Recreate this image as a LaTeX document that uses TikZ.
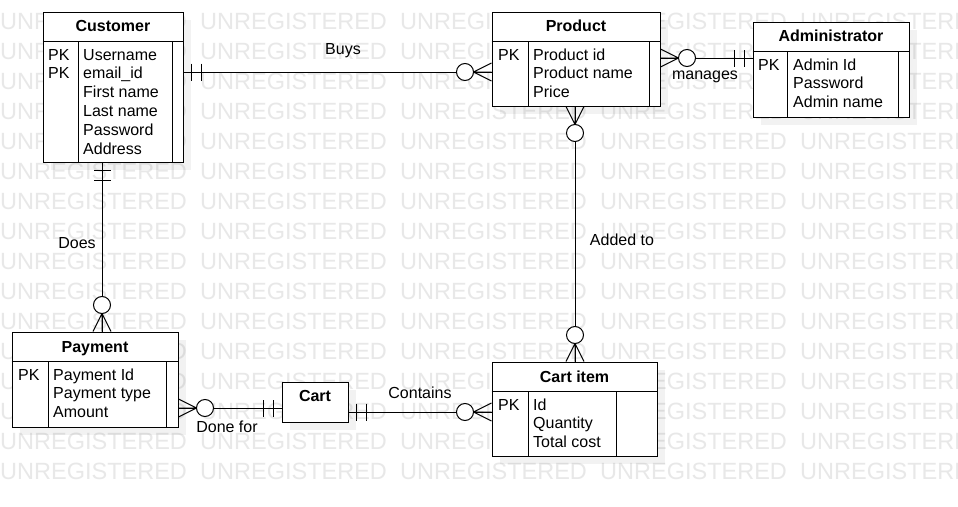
\documentclass[tikz,border=0pt]{standalone}
\usepackage{fontspec}
\setmainfont{Liberation Sans}
\usetikzlibrary{shadows}
\definecolor{wmcol}{RGB}{232,232,232}
\newcommand\entlines[4]{%
  \draw[ln] (#1.west |- 0,#2) -- (#1.east |- 0,#2);
  \draw[ln] (#3,#2) -- (#3,0 |- #1.south);
  \draw[ln] (#4,#2) -- (#4,0 |- #1.south);
}
\begin{document}
\begin{tikzpicture}[x=1pt,y=-1pt,
  ln/.style={line width=1pt},
  ent/.style={draw, line width=1pt, fill=white, inner sep=0pt, rectangle,
    drop shadow={shadow xshift=8pt, shadow yshift=-8pt, fill=black, opacity=0.05}},
  wm/.style={inner sep=0pt, text=wmcol, font=\fontsize{23.5}{28}\selectfont},
  txt/.style={inner sep=0pt, font=\fontsize{16}{19}\selectfont},
  ttl/.style={inner sep=0pt, anchor=base, font=\fontsize{16}{19}\selectfont\bfseries},
  lbl/.style={inner sep=0pt, anchor=base, font=\fontsize{16}{19}\selectfont},
  zmany/.pic={
    \draw[line width=1pt] (0,-9) -- (18,0) -- (0,9) (0,0) -- (18,0);
    \draw[line width=1pt, fill=white] (26.5,0) circle[radius=8.5pt];
  },
  oone/.pic={
    \draw[line width=1pt] (8,-8.5) -- (8,8.5) (18,-8.5) -- (18,8.5);
  }
]
\useasboundingbox (0,0) rectangle (958,506);
\clip (0,0) rectangle (958,506);
\fill[white] (0,0) rectangle (958,506);
% watermark
\foreach \k in {0,...,15}{
  \foreach \j in {0,...,4}{
    \node[wm, anchor=base west] (wm-\j-\k) at (200*\j, 29.4+30*\k) {UNREGISTERED};
  }
}
% entity boxes
\node[ent, minimum width=140pt, minimum height=150pt] (cust) at (113,87) {};
\node[ent, minimum width=168pt, minimum height=94pt] (prod) at (576,59) {};
\node[ent, minimum width=156pt, minimum height=95pt] (admin) at (831,69.5) {};
\node[ent, minimum width=166pt, minimum height=95pt] (pay) at (95,379.5) {};
\node[ent, minimum width=66pt, minimum height=40pt] (cart) at (315,402) {};
\node[ent, minimum width=165pt, minimum height=94pt] (item) at (574.5,409) {};
\entlines{cust}{41}{78}{172}
\entlines{prod}{41}{528}{649}
\entlines{admin}{51}{787}{898}
\entlines{pay}{361}{48}{166}
\entlines{item}{391}{528}{616}
% titles
\node[ttl] (cust-t) at (113,31) {Customer};
\node[ttl] (prod-t) at (576,31) {Product};
\node[ttl] (admin-t) at (831,41) {Administrator};
\node[ttl] (pay-t) at (95,352) {Payment};
\node[ttl] (item-t) at (574.5,382) {Cart item};
\node[ttl] (cart-t) at (315,401) {Cart};
% keys
\node[txt, anchor=base west] (cust-k1) at (48,60) {PK};
\node[txt, anchor=base west] (cust-k2) at (48,78.8) {PK};
\node[txt, anchor=base west] (prod-k) at (498,60) {PK};
\node[txt, anchor=base west] (admin-k) at (758,70) {PK};
\node[txt, anchor=base west] (pay-k) at (18,380) {PK};
\node[txt, anchor=base west] (item-k) at (498,410) {PK};
% attributes
\foreach \t [count=\i] in {Username, email\_id, First name, Last name, Password, Address}
  \node[txt, anchor=base west] (cust-a\i) at (83, 60+18.8*\i-18.8) {\t};
\foreach \t [count=\i] in {Product id, Product name, Price}
  \node[txt, anchor=base west] (prod-a\i) at (533, 60+18.8*\i-18.8) {\t};
\foreach \t [count=\i] in {Admin Id, Password, Admin name}
  \node[txt, anchor=base west] (admin-a\i) at (793, 70+18.8*\i-18.8) {\t};
\foreach \t [count=\i] in {Payment Id, Payment type, Amount}
  \node[txt, anchor=base west] (pay-a\i) at (53, 380+18.8*\i-18.8) {\t};
\foreach \t [count=\i] in {Id, Quantity, Total cost}
  \node[txt, anchor=base west] (item-a\i) at (533, 410+18.8*\i-18.8) {\t};
% connector end points
\coordinate (buysA) at (cust.east |- 0,72);
\coordinate (buysB) at (prod.west |- 0,72);
\coordinate (manA) at (prod.east |- 0,58);
\coordinate (manB) at (admin.west |- 0,58);
\coordinate (doesA) at (cust.south -| 102,0);
\coordinate (doesB) at (pay.north -| 102,0);
\coordinate (addA) at (prod.south -| 575,0);
\coordinate (addB) at (item.north -| 575,0);
\coordinate (doneA) at (pay.east |- 0,408);
\coordinate (doneB) at (cart.west |- 0,408);
\coordinate (contA) at (cart.east |- 0,412);
\coordinate (contB) at (item.west |- 0,412);
% connectors
\draw[ln] (buysA) -- (buysB);
\draw[ln] (manA) -- (manB);
\draw[ln] (doesA) -- (doesB);
\draw[ln] (addA) -- (addB);
\draw[ln] (doneA) -- (doneB);
\draw[ln] (contA) -- (contB);
% cardinality marks
\pic at (buysA) {oone};
\pic[rotate=180] at (buysB) {zmany};
\pic at (manA) {zmany};
\pic[rotate=180] at (manB) {oone};
\pic[rotate=-90] at (doesA) {oone};
\pic[rotate=90] at (doesB) {zmany};
\pic[rotate=-90] at (addA) {zmany};
\pic[rotate=90] at (addB) {zmany};
\pic at (doneA) {zmany};
\pic[rotate=180] at (doneB) {oone};
\pic at (contA) {oone};
\pic[rotate=180] at (contB) {zmany};
% labels
\node[lbl] (l-buys) at (343,54) {Buys};
\node[lbl] (l-man) at (705,79) {manages};
\node[lbl] (l-does) at (77,248) {Does};
\node[lbl] (l-add) at (622,245) {Added to};
\node[lbl] (l-done) at (227,432) {Done for};
\node[lbl] (l-cont) at (420,398) {Contains};
\end{tikzpicture}
\end{document}
